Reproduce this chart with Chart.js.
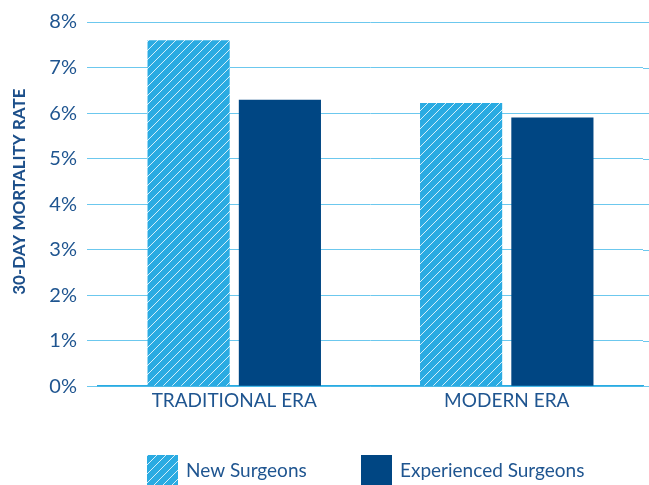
<!DOCTYPE html>
<html>
<head>
<meta charset="utf-8">
<script src="https://cdn.jsdelivr.net/npm/chart.js@4.4.0/dist/chart.umd.min.js"></script>
<style>
  html, body { margin: 0; padding: 0; background: #fff; }
  #wrap { width: 649px; height: 485px; }
</style>
</head>
<body>
<div id="wrap"><canvas id="myChart"></canvas></div>
<script>
const categories = ['TRADITIONAL ERA', 'MODERN ERA'];
const newSurgeons = [7.6, 6.22];
const experiencedSurgeons = [6.29, 5.9];
const yTicks = [0, 1, 2, 3, 4, 5, 6, 7, 8];

const lightBlue = '#2aabe2';
const darkBlue = '#004683';
const textBlue = '#1f5590';
const gridColor = '#6cc8ee';

// diagonal hatch for the "new surgeons" bars
function makeHatch() {
  const c = document.createElement('canvas');
  c.width = 9; c.height = 9;
  const g = c.getContext('2d');
  g.fillStyle = lightBlue;
  g.fillRect(0, 0, 9, 9);
  g.strokeStyle = 'rgba(255,255,255,0.8)';
  g.lineWidth = 1;
  g.beginPath();
  g.moveTo(-1, 10); g.lineTo(10, -1);
  g.moveTo(-1, 1); g.lineTo(1, -1);
  g.moveTo(8, 10); g.lineTo(10, 8);
  g.stroke();
  return g.createPattern(c, 'repeat');
}
const hatch = makeHatch();

const extraLines = {
  id: 'extraLines',
  beforeDatasetsDraw(chart) {
    const { ctx, chartArea, scales } = chart;
    ctx.save();
    ctx.strokeStyle = gridColor;
    ctx.lineWidth = 1;
    yTicks.forEach(v => {
      const y = Math.round(scales.y.getPixelForValue(v)) + 0.5;
      ctx.beginPath();
      ctx.moveTo(chartArea.right, y);
      ctx.lineTo(chart.width, y);
      ctx.stroke();
    });
    ctx.restore();
  },
  afterDraw(chart) {
    const { ctx } = chart;
    ctx.save();
    const items = [
      { label: 'New Surgeons', fill: hatch, x: 147 },
      { label: 'Experienced Surgeons', fill: darkBlue, x: 361 }
    ];
    ctx.font = '19px Lato';
    ctx.textBaseline = 'middle';
    items.forEach(it => {
      ctx.fillStyle = it.fill;
      ctx.fillRect(it.x, 455, 31, 31);
      ctx.fillStyle = textBlue;
      ctx.fillText(it.label, it.x + 39, 471);
    });
    ctx.restore();
  }
};

new Chart(document.getElementById('myChart').getContext('2d'), {
  type: 'bar',
  data: {
    labels: categories,
    datasets: [
      { label: 'New Surgeons', data: newSurgeons, backgroundColor: hatch,
        categoryPercentage: 0.67, barPercentage: 0.9 },
      { label: 'Experienced Surgeons', data: experiencedSurgeons, backgroundColor: darkBlue,
        categoryPercentage: 0.67, barPercentage: 0.9 }
    ]
  },
  options: {
    responsive: true,
    maintainAspectRatio: false,
    animation: false,
    layout: { padding: { top: 12, right: 6, bottom: 78, left: 0 } },
    plugins: {
      legend: { display: false },
      tooltip: { enabled: false }
    },
    scales: {
      x: {
        grid: { display: false },
        border: { display: true, color: lightBlue, width: 1.5 },
        ticks: { color: textBlue, font: { family: 'Lato', size: 19 }, padding: -5 }
      },
      y: {
        min: 0,
        max: 8,
        afterFit(scale) { scale.width = 98; },
        afterBuildTicks(scale) { scale.ticks = yTicks.map(v => ({ value: v })); },
        border: { display: false },
        grid: { color: gridColor, tickLength: 11, drawTicks: true },
        ticks: {
          color: textBlue,
          font: { family: 'Lato', size: 20 },
          padding: 10,
          callback: v => v + '%'
        },
        title: {
          display: true,
          text: '\u00A0\u00A0\u00A0\u00A0\u00A0\u00A030-DAY MORTALITY RATE',
          color: '#1c4f8a',
          font: { family: 'Lato', size: 17, weight: 'bold' },
          padding: { top: 9, bottom: 0 }
        }
      }
    }
  },
  plugins: [extraLines]
});
</script>
</body>
</html>
